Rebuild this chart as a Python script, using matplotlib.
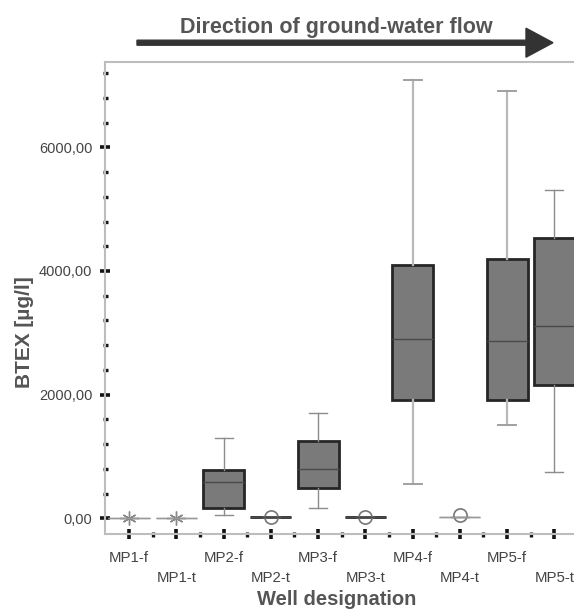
import matplotlib.pyplot as plt
from matplotlib.patches import FancyArrow
from matplotlib.transforms import IdentityTransform
from matplotlib.ticker import MultipleLocator, FixedLocator, FuncFormatter, NullFormatter

plt.rcParams['font.family'] = ['Liberation Sans', 'DejaVu Sans']

# values (BTEX in ug/l)
wells = ["MP1-f", "MP1-t", "MP2-f", "MP2-t", "MP3-f", "MP3-t", "MP4-f", "MP4-t", "MP5-f", "MP5-t"]
whis_lo = [10, 10, 48, 15, 162, 15, 555, 21, 1504, 744]
q1 = [10, 10, 171, 15, 495, 15, 1908, 21, 1908, 2151]
med = [10, 10, 582, 15, 793, 15, 2895, 21, 2863, 3105]
q3 = [10, 10, 776, 15, 1250, 15, 4097, 21, 4189, 4538]
whis_hi = [10, 10, 1294, 15, 1698, 15, 7089, 21, 6906, 5305]
outliers = [[10], [10], [], [15], [], [15], [], [48], [], []]
extremes = ["MP1-f", "MP1-t"]          # shown as asterisks
flat_grey = ["MP1-f", "MP1-t", "MP4-t"]  # collapsed boxes drawn as thin grey line

W, H = 574, 610
fig = plt.figure(figsize=(W / 100, H / 100), dpi=100)
ax = fig.add_axes([105.4 / W, 1 - 534 / H, (578 - 105.4) / W, (534 - 62) / H])

stats = []
for i, name in enumerate(wells):
    stats.append(dict(label=name, whislo=whis_lo[i], q1=q1[i], med=med[i],
                      q3=q3[i], whishi=whis_hi[i], fliers=outliers[i]))

pos = list(range(1, len(wells) + 1))
bp = ax.bxp(stats, positions=pos, widths=0.87, capwidths=0.38, patch_artist=True,
            boxprops=dict(facecolor='#7a7a7a', edgecolor='#262626', linewidth=2),
            medianprops=dict(color='#4a4a4a', linewidth=1),
            whiskerprops=dict(color='#8c8c8c', linewidth=1),
            capprops=dict(color='#8c8c8c', linewidth=1),
            flierprops=dict(marker='o', markersize=9.5, markerfacecolor='none',
                            markeredgecolor='#777777', markeredgewidth=1.2))

for i, name in enumerate(wells):
    if name in flat_grey:
        bp['boxes'][i].set_edgecolor('#999999')
        bp['boxes'][i].set_linewidth(1)
        bp['medians'][i].set_color('#999999')
    if name in extremes:
        bp['fliers'][i].set_marker((6, 2, 0))
        bp['fliers'][i].set_markersize(10)
        bp['fliers'][i].set_markeredgewidth(1.0)
        bp['fliers'][i].set_markeredgecolor('#888888')
    if name in ["MP4-f", "MP5-f"]:
        for k in (2 * i, 2 * i + 1):
            bp['whiskers'][k].set_color('#b8b8b8')
            bp['whiskers'][k].set_linewidth(1.6)
            bp['caps'][k].set_color('#a0a0a0')
            bp['caps'][k].set_linewidth(1.4)

ax.set_xlim(0.5, len(wells) + 0.5)
ax.set_ylim(-254, 7380)

ax.yaxis.set_major_locator(MultipleLocator(2000))
ax.yaxis.set_minor_locator(MultipleLocator(400))
ax.yaxis.set_major_formatter(FuncFormatter(lambda v, p: f"{v:.2f}".replace('.', ',')))
ax.xaxis.set_major_locator(FixedLocator(pos))
ax.xaxis.set_minor_locator(FixedLocator([p + 0.5 for p in pos]))
ax.xaxis.set_major_formatter(NullFormatter())

ax.tick_params(axis='both', which='major', direction='inout', length=7, width=2.6,
               color='#141414', labelsize=10.5, labelcolor='#444444', pad=6)
ax.tick_params(axis='both', which='minor', direction='inout', length=3.6, width=2.4,
               color='#141414')

for s in ['left', 'bottom', 'top']:
    ax.spines[s].set_color('#bdbdbd')
    ax.spines[s].set_linewidth(1.5)
ax.spines['right'].set_visible(False)

# staggered well labels
for i, name in enumerate(wells):
    yy = -0.0593 if i % 2 == 0 else -0.101
    ax.text(pos[i], yy, name, transform=ax.get_xaxis_transform(), ha='center',
            va='baseline', fontsize=10.8, color='#444444')

fig.text(336.5 / W, 5 / H, 'Well designation', ha='center', va='baseline',
         fontsize=14.5, fontweight='bold', color='#555555')
fig.text(24 / W, 1 - 332 / H, 'BTEX [µg/l]', ha='center', va='center', rotation=90,
         fontsize=15, fontweight='bold', color='#555555')

# flow direction arrow
fig.text(336.5 / W, 1 - 33 / H, 'Direction of ground-water flow', ha='center',
         va='baseline', fontsize=15.5, fontweight='bold', color='#555555')
arrow = FancyArrow(137, H - 42.7, 416, 0, width=5, head_width=29, head_length=27,
                   length_includes_head=True, color='#333333', transform=IdentityTransform())
fig.add_artist(arrow)

fig.savefig('out.png', dpi=100)
